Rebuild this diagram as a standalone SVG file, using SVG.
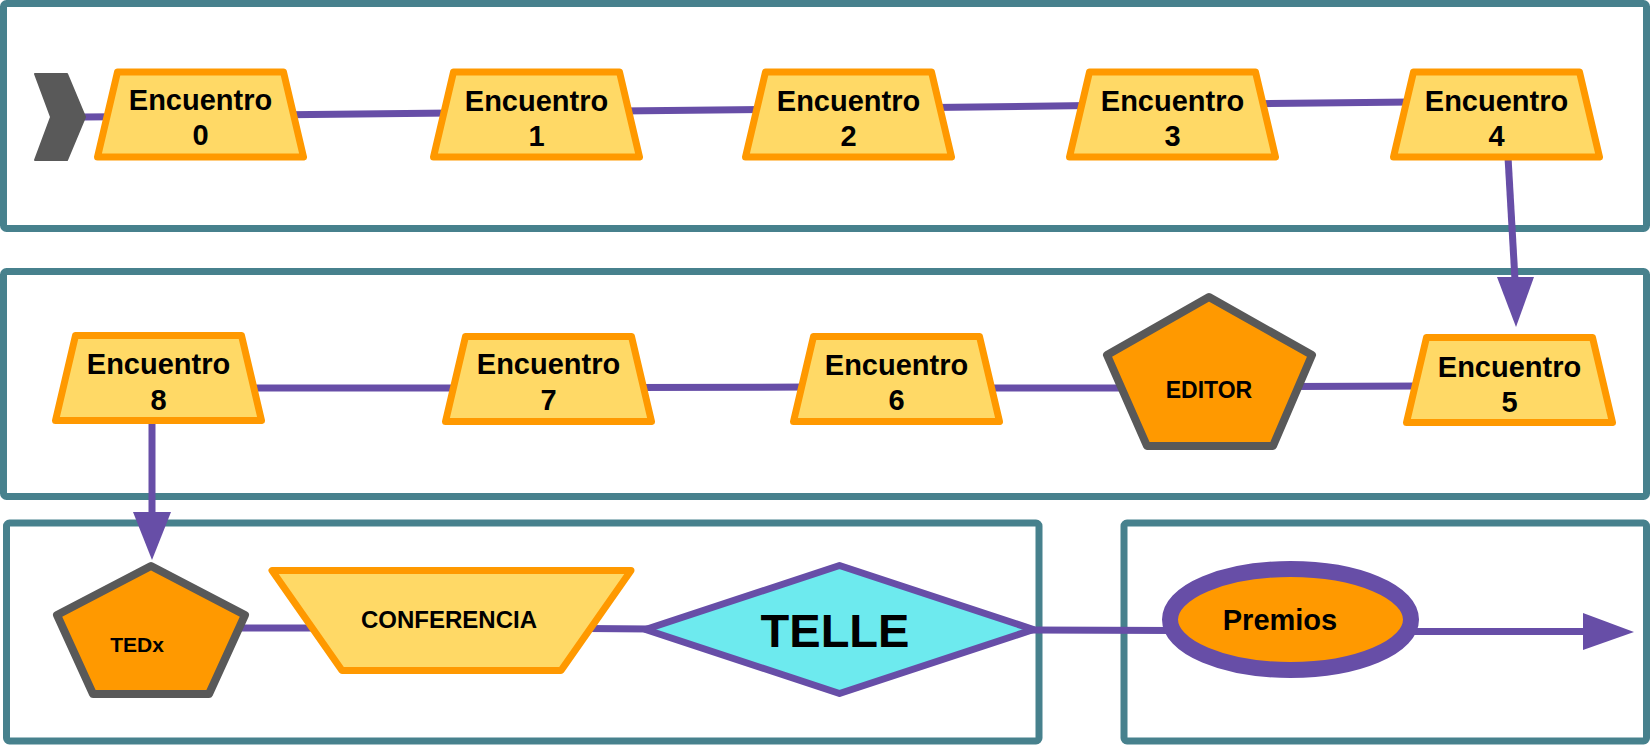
<svg xmlns="http://www.w3.org/2000/svg" width="1650" height="749" viewBox="0 0 1650 749">
<style>
.box{fill:none;stroke:#47818d;stroke-width:7;}
.trap{fill:#ffd966;stroke:#ff9900;stroke-width:7;stroke-linejoin:round;}
.pent{fill:#ff9900;stroke:#595959;stroke-width:8;stroke-linejoin:round;}
.con{fill:none;stroke:#674ea7;stroke-width:7;}
.head{fill:#674ea7;}
text{font-family:"Liberation Sans",Arial,sans-serif;font-weight:bold;fill:#000;text-anchor:middle;}
.t{font-size:29px;}
</style>
<defs>
<path id="trapR1" d="M-83,0 L83,0 L103,85 L-103,85 Z"/>
</defs>
<g id="frames">
<rect class="box" x="3.5" y="3.5" width="1643" height="225" rx="3"/>
<rect class="box" x="3.5" y="271.5" width="1643" height="225" rx="3"/>
<rect class="box" x="6.5" y="523" width="1032.5" height="218" rx="3"/>
<rect class="box" x="1124" y="523" width="522.5" height="218" rx="3"/>
</g>
<g id="connectors">
<line class="con" x1="84" y1="117" x2="112" y2="116.7"/>
<line class="con" x1="288" y1="114.7" x2="452" y2="112.9"/>
<line class="con" x1="620" y1="110.9" x2="762" y2="109.4"/>
<line class="con" x1="933" y1="107.4" x2="1090" y2="105.6"/>
<line class="con" x1="1258" y1="103.7" x2="1412" y2="102"/>
<line class="con" x1="1508" y1="157" x2="1515" y2="280"/>
<polygon class="head" points="1497,277 1534,277 1516,327"/>
<line class="con" x1="245" y1="388" x2="462" y2="388"/>
<line class="con" x1="635" y1="387.5" x2="810" y2="387"/>
<line class="con" x1="982" y1="388" x2="1128" y2="388"/>
<line class="con" x1="1292" y1="386.5" x2="1422" y2="386"/>
<line class="con" x1="152" y1="421" x2="152" y2="515"/>
<polygon class="head" points="133,512 171,512 152,560"/>
<line class="con" x1="238" y1="628" x2="314" y2="628"/>
<line class="con" x1="588" y1="628.5" x2="650" y2="629"/>
<line class="con" x1="1030" y1="630" x2="1175" y2="630.5"/>
<line class="con" x1="1406" y1="631.5" x2="1586" y2="631.5"/>
<polygon class="head" points="1583,613 1583,650 1634,632"/>
</g>
<g id="start">
<path d="M35,74 L67,74 L85,117 L67,160 L35,160 L51,117 Z" fill="#595959" stroke="#595959" stroke-width="2" stroke-linejoin="round"/>
</g>
<g id="encuentro0">
<use href="#trapR1" class="trap" x="200.5" y="72"/>
<text class="t" x="200.5" y="110">Encuentro</text>
<text class="t" x="200.5" y="145">0</text>
</g>
<g id="encuentro1">
<use href="#trapR1" class="trap" x="536.5" y="72"/>
<text class="t" x="536.5" y="111">Encuentro</text>
<text class="t" x="536.5" y="146">1</text>
</g>
<g id="encuentro2">
<use href="#trapR1" class="trap" x="848.5" y="72"/>
<text class="t" x="848.5" y="111">Encuentro</text>
<text class="t" x="848.5" y="146">2</text>
</g>
<g id="encuentro3">
<use href="#trapR1" class="trap" x="1172.5" y="72"/>
<text class="t" x="1172.5" y="111">Encuentro</text>
<text class="t" x="1172.5" y="146">3</text>
</g>
<g id="encuentro4">
<use href="#trapR1" class="trap" x="1496.5" y="72"/>
<text class="t" x="1496.5" y="111">Encuentro</text>
<text class="t" x="1496.5" y="146">4</text>
</g>
<g id="encuentro5">
<use href="#trapR1" class="trap" x="1509.5" y="337.5"/>
<text class="t" x="1509.5" y="377">Encuentro</text>
<text class="t" x="1509.5" y="412">5</text>
</g>
<g id="editor">
<polygon class="pent" points="1209,297 1312,355 1273,446 1147,446 1107,355"/>
<text x="1209" y="398" style="font-size:23px">EDITOR</text>
</g>
<g id="encuentro6">
<use href="#trapR1" class="trap" x="896.5" y="336.5"/>
<text class="t" x="896.5" y="375">Encuentro</text>
<text class="t" x="896.5" y="410">6</text>
</g>
<g id="encuentro7">
<use href="#trapR1" class="trap" x="548.5" y="336.5"/>
<text class="t" x="548.5" y="374">Encuentro</text>
<text class="t" x="548.5" y="410">7</text>
</g>
<g id="encuentro8">
<use href="#trapR1" class="trap" x="158.5" y="335.5"/>
<text class="t" x="158.5" y="374">Encuentro</text>
<text class="t" x="158.5" y="410">8</text>
</g>
<g id="tedx">
<polygon class="pent" points="151,566 245,615 209,694 93,694 57,615"/>
<text x="137" y="652" style="font-size:21px">TEDx</text>
</g>
<g id="conferencia">
<polygon class="trap" points="272,570.5 631,570.5 561,670.5 342,670.5"/>
<text x="449" y="628" style="font-size:24px">CONFERENCIA</text>
</g>
<g id="telle">
<polygon points="645.5,629.5 839.5,565.5 1033.5,629.5 839.5,693.5" fill="#6deaee" stroke="#674ea7" stroke-width="7" stroke-linejoin="round"/>
<text x="835" y="647" style="font-size:47px">TELLE</text>
</g>
<g id="premios">
<ellipse cx="1290.5" cy="619.5" rx="120.5" ry="50.5" fill="#ff9900" stroke="#674ea7" stroke-width="16"/>
<text class="t" x="1280" y="630">Premios</text>
</g>
</svg>
